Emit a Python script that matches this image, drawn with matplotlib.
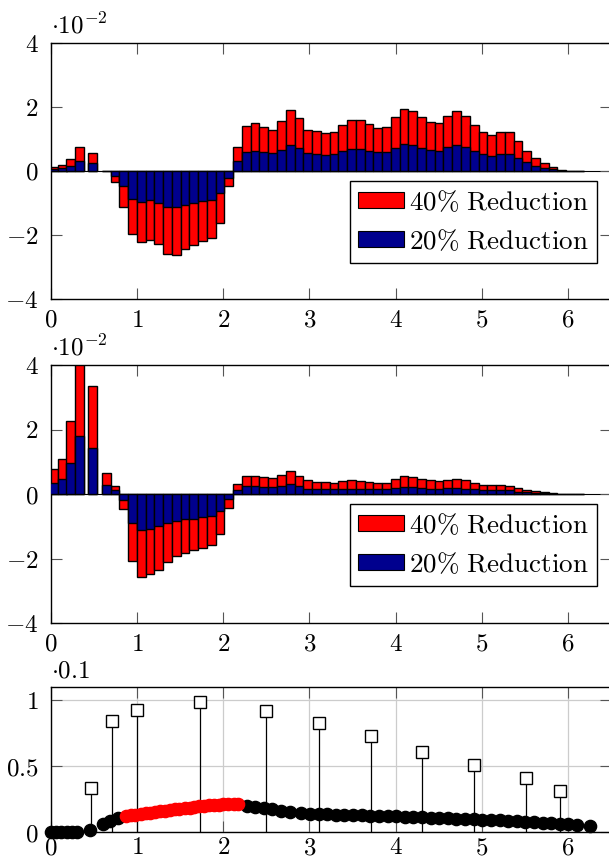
import numpy as np
import matplotlib.pyplot as plt
from matplotlib.patches import Patch
from matplotlib.ticker import FuncFormatter

plt.rcParams['mathtext.fontset'] = 'cm'
plt.rcParams['font.family'] = ['DejaVu Serif']

# bar centres shared by the two bar panels (irregular start, then regular grid)
bar_x = np.concatenate([[0.03, 0.13, 0.23, 0.33, 0.48, 0.64],
                        0.742 + 0.1017 * np.arange(54)])
bar_w = 0.1017

# top panel, values in units of 1e-2
top_40 = [0.12, 0.20, 0.39, 0.75, 0.57, 0.01, -0.35, -1.11, -1.98, -2.22,
          -2.15, -2.29, -2.60, -2.62, -2.45, -2.32, -2.20, -2.08, -1.61, -0.46,
          0.74, 1.40, 1.49, 1.38, 1.28, 1.57, 1.92, 1.65, 1.29, 1.24,
          1.18, 1.21, 1.43, 1.60, 1.58, 1.46, 1.35, 1.39, 1.69, 1.93,
          1.88, 1.69, 1.53, 1.49, 1.72, 1.89, 1.73, 1.45, 1.22, 1.13,
          1.22, 1.22, 0.95, 0.62, 0.41, 0.26, 0.12, 0.02, 0.015, 0.01]
top_20 = [0.06, 0.08, 0.16, 0.32, 0.25, 0.005, -0.16, -0.47, -0.86, -0.96,
          -0.92, -0.99, -1.11, -1.13, -1.06, -1.01, -0.95, -0.90, -0.70, -0.22,
          0.31, 0.59, 0.63, 0.59, 0.55, 0.66, 0.81, 0.71, 0.57, 0.54,
          0.51, 0.52, 0.61, 0.69, 0.68, 0.63, 0.59, 0.60, 0.72, 0.85,
          0.81, 0.72, 0.66, 0.64, 0.74, 0.81, 0.74, 0.62, 0.54, 0.48,
          0.54, 0.54, 0.41, 0.27, 0.16, 0.10, 0.05, 0.01, 0.007, 0.005]

# middle panel, values in units of 1e-2
mid_40 = [0.79, 1.10, 2.25, 4.30, 3.35, 0.64, 0.24, -0.45, -2.09, -2.58,
          -2.49, -2.35, -2.11, -1.93, -1.83, -1.74, -1.66, -1.58, -1.23, -0.42,
          0.31, 0.55, 0.55, 0.52, 0.49, 0.59, 0.72, 0.56, 0.42, 0.38,
          0.36, 0.35, 0.39, 0.42, 0.41, 0.38, 0.34, 0.35, 0.46, 0.55,
          0.53, 0.46, 0.42, 0.40, 0.44, 0.47, 0.42, 0.33, 0.29, 0.28,
          0.28, 0.26, 0.18, 0.12, 0.08, 0.05, 0.03, 0.015, 0.01, 0.005]
mid_20 = [0.34, 0.46, 0.95, 1.81, 1.43, 0.28, 0.11, -0.18, -0.90, -1.11,
          -1.08, -1.00, -0.90, -0.84, -0.79, -0.76, -0.71, -0.67, -0.53, -0.17,
          0.12, 0.24, 0.24, 0.22, 0.21, 0.24, 0.30, 0.24, 0.17, 0.16,
          0.15, 0.15, 0.16, 0.17, 0.17, 0.16, 0.14, 0.15, 0.19, 0.22,
          0.22, 0.19, 0.17, 0.16, 0.18, 0.19, 0.17, 0.14, 0.12, 0.11,
          0.11, 0.11, 0.07, 0.05, 0.03, 0.02, 0.012, 0.006, 0.004, 0.002]

# bottom panel, values in units of 0.1
dots_x1 = [0, 0.06, 0.12, 0.18, 0.24, 0.30, 0.45, 0.60, 0.68, 0.78]
dots_y1 = [0, 0, 0, 0, 0, 0, 0.018, 0.059, 0.084, 0.11]
red_x = [0.87, 0.93, 0.98, 1.04, 1.10, 1.15, 1.21, 1.27, 1.32, 1.38, 1.44, 1.49,
         1.55, 1.61, 1.66, 1.72, 1.78, 1.83, 1.89, 1.95, 2.00, 2.06, 2.12, 2.17]
red_y = [0.120, 0.126, 0.132, 0.137, 0.142, 0.147, 0.152, 0.157, 0.162, 0.167,
         0.172, 0.176, 0.180, 0.185, 0.190, 0.194, 0.198, 0.202, 0.205, 0.208,
         0.210, 0.211, 0.211, 0.210]
dots_x2 = [2.27, 2.37, 2.47, 2.57, 2.67, 2.77, 2.905, 3.005, 3.105, 3.205, 3.305,
           3.405, 3.505, 3.606, 3.706, 3.806, 3.906, 4.006, 4.106, 4.206, 4.306,
           4.406, 4.506, 4.606, 4.706, 4.806, 4.906, 5.006, 5.106, 5.206, 5.306,
           5.406, 5.506, 5.606, 5.706, 5.806, 5.906, 6.006, 6.11, 6.26]
dots_y2 = [0.198, 0.190, 0.181, 0.172, 0.163, 0.154, 0.145, 0.140, 0.137, 0.135,
           0.132, 0.130, 0.127, 0.127, 0.125, 0.122, 0.120, 0.120, 0.117, 0.115,
           0.112, 0.109, 0.107, 0.104, 0.102, 0.099, 0.097, 0.094, 0.092, 0.089,
           0.087, 0.081, 0.079, 0.074, 0.071, 0.069, 0.064, 0.059, 0.053, 0.046]
stem_x = [0.46, 0.71, 1.00, 1.73, 2.49, 3.11, 3.71, 4.31, 4.91, 5.51, 5.91]
stem_y = [0.336, 0.845, 0.924, 0.985, 0.916, 0.827, 0.728, 0.608, 0.507, 0.408, 0.313]

RED = '#ff0000'
BLUE = '#00008e'
FS = 18
LEG_FS = 19.5

fig = plt.figure(figsize=(6.09, 8.59), dpi=100)

def px_axes(top, bottom, left=51, right=611):
    W, H = 609.0, 859.0
    return fig.add_axes([left / W, 1 - bottom / H, (right - left) / W, (bottom - top) / H])

fmt = FuncFormatter(lambda v, p: '$%g$' % v)

def style(ax, xpad=7):
    ax.tick_params(direction='in', length=8, width=0.8, color='#555555',
                   top=True, right=True, labelsize=FS, pad=9)
    ax.tick_params(axis='x', pad=xpad)
    for s in ax.spines.values():
        s.set_linewidth(1.0)
    ax.xaxis.set_major_formatter(fmt)
    ax.yaxis.set_major_formatter(fmt)
    ax.set_xlim(0, 6.5)
    ax.set_xticks(range(7))

def bar_panel(ax, v40, v20, leg_bottom):
    ax.axhline(0, color='k', lw=0.8, zorder=1)
    ax.bar(bar_x, v40, width=bar_w, color=RED, edgecolor='k', linewidth=1.0, zorder=2)
    ax.bar(bar_x, v20, width=bar_w, color=BLUE, edgecolor='k', linewidth=1.0, zorder=3)
    ax.set_ylim(-4, 4)
    ax.set_yticks([-4, -2, 0, 2, 4])
    style(ax)
    ax.annotate(r'$\cdot 10^{-2}$', xy=(0, 1), xycoords='axes fraction',
                xytext=(0, 7), textcoords='offset points', fontsize=FS, va='baseline')
    handles = [Patch(facecolor=RED, edgecolor='k', linewidth=0.8),
               Patch(facecolor=BLUE, edgecolor='k', linewidth=0.8)]
    labels = [r'$\mathrm{40\%\ Reduction}$', r'$\mathrm{20\%\ Reduction}$']
    leg = ax.legend(handles, labels, loc='lower right',
                    bbox_to_anchor=(597 / 609.0, 1 - leg_bottom / 859.0),
                    bbox_transform=fig.transFigure, borderaxespad=0,
                    fancybox=False, framealpha=1, edgecolor='k', fontsize=LEG_FS,
                    handlelength=1.7, handleheight=0.52, handletextpad=0.2,
                    borderpad=0.3, labelspacing=0.45)
    leg.get_frame().set_linewidth(1.0)

ax1 = px_axes(43, 299)
bar_panel(ax1, top_40, top_20, 263)

ax2 = px_axes(365, 623)
bar_panel(ax2, mid_40, mid_20, 586)

ax3 = px_axes(687, 832)
ax3.grid(True, color='#cccccc', lw=0.9, zorder=0)
ax3.set_axisbelow(True)
ax3.vlines(stem_x, 0, stem_y, color='k', lw=0.9, zorder=2)
ax3.plot(stem_x, stem_y, 's', mfc='white', mec='k', mew=1.0, ms=8, zorder=3)
ax3.plot(dots_x1, dots_y1, 'o', color='k', ms=8.8, clip_on=False, zorder=4)
ax3.plot(dots_x2, dots_y2, 'o', color='k', ms=8.8, clip_on=False, zorder=4)
ax3.plot(red_x, red_y, 'o', color=RED, ms=8.8, clip_on=False, zorder=5)
ax3.set_ylim(0, 1.1)
ax3.set_yticks([0, 0.5, 1])
style(ax3, xpad=3)
ax3.annotate(r'$\cdot 0.1$', xy=(0, 1), xycoords='axes fraction',
             xytext=(0, 7), textcoords='offset points', fontsize=FS, va='baseline')

fig.savefig('out.png', dpi=100)
